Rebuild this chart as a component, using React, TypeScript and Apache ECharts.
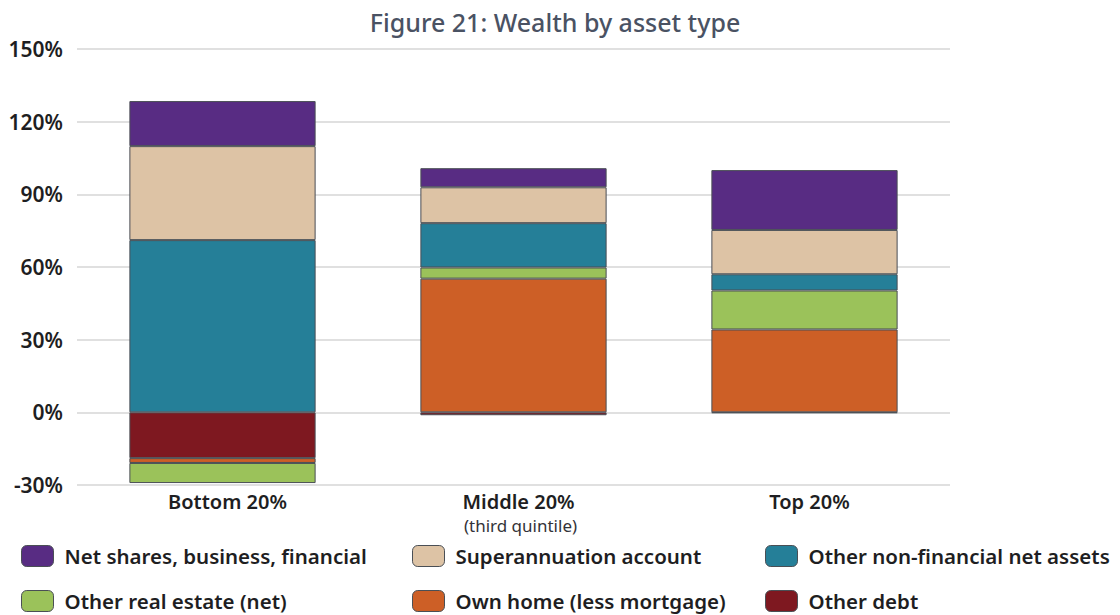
import React, { useEffect, useRef } from "react";
import * as echarts from "echarts";

const categories = ["Bottom 20%", "Middle 20%", "Top 20%"];
const categoryNotes = ["", "(third quintile)", ""];
const yTicks = [-30, 0, 30, 60, 90, 120, 150];

const otherDebt = [-18.9, -1.2, -0.3];
const ownHome = [-2.0, 55.2, 34.2];
const otherRealEstate = [-8.3, 4.6, 16.1];
const otherNonFinancial = [71.1, 18.3, 6.7];
const superannuation = [38.8, 14.8, 18.3];
const netShares = [18.6, 7.9, 24.7];

const seriesDefs = [
  { name: "Other debt", data: otherDebt, color: "#7e1820" },
  { name: "Own home (less mortgage)", data: ownHome, color: "#cd5f26" },
  { name: "Other real estate (net)", data: otherRealEstate, color: "#9bc25a" },
  { name: "Other non-financial net assets", data: otherNonFinancial, color: "#257f98" },
  { name: "Superannuation account", data: superannuation, color: "#ddc3a5" },
  { name: "Net shares, business, financial", data: netShares, color: "#582c83" },
];

const legendLayout: Record<string, { left: number; top: number }> = {
  "Net shares, business, financial": { left: 21, top: 545 },
  "Superannuation account": { left: 412, top: 545 },
  "Other non-financial net assets": { left: 765, top: 545 },
  "Other real estate (net)": { left: 21, top: 590 },
  "Own home (less mortgage)": { left: 412, top: 590 },
  "Other debt": { left: 765, top: 590 },
};

const FONT = "'Noto Sans', 'DejaVu Sans', sans-serif";

export default function App() {
  const ref = useRef<HTMLDivElement>(null);
  useEffect(() => {
    if (!ref.current) return;
    const chart = echarts.init(ref.current, null, { renderer: "svg" });
    const legends = Object.keys(legendLayout).map((name) => ({
      data: [name],
      left: legendLayout[name].left,
      top: legendLayout[name].top,
      padding: 0,
      orient: "horizontal",
      itemWidth: 32,
      itemHeight: 21,
      itemGap: 10,
      selectedMode: false,
      textStyle: { fontFamily: FONT, fontSize: 20.5, fontWeight: 600, color: "#1e1e22", padding: [0, 0, 0, 6] },
      itemStyle: { borderColor: "#4a4f55", borderWidth: 1 },
    }));
    chart.setOption({
      animation: false,
      title: {
        text: "Figure 21: Wealth by asset type",
        left: 550,
        textAlign: "center",
        top: 4,
        textStyle: { fontFamily: FONT, fontSize: 25, fontWeight: 500, color: "#4a5263" },
      },
      legend: legends,
      grid: { left: 77, right: 170, top: 49, bottom: 130 },
      xAxis: {
        type: "category",
        data: categories,
        axisLine: { show: false },
        axisTick: { show: false },
        axisLabel: {
          margin: 6,
          interval: 0,
          fontFamily: FONT,
          fontSize: 20,
          fontWeight: 600,
          color: "#1e1e22",
          lineHeight: 20,
          padding: [0, 0, 0, 10],
        },
      },
      yAxis: {
        type: "value",
        min: yTicks[0],
        max: yTicks[yTicks.length - 1],
        interval: 30,
        axisLine: { show: false },
        axisTick: { show: false },
        splitLine: { lineStyle: { color: "#d6d6d6", width: 1.5 } },
        axisLabel: {
          margin: 14,
          fontFamily: FONT,
          fontSize: 21,
          fontWeight: 600,
          color: "#1e1e22",
          formatter: (v: number) => v + "%",
        },
      },
      series: seriesDefs.map((s) => ({
        name: s.name,
        type: "bar",
        stack: "total",
        data: s.data,
        barWidth: "64%",
        itemStyle: { color: s.color, borderColor: "#4a4f55", borderWidth: 1 },
      })),
    });
    const graphics = categoryNotes
      .map((note, i) => {
        if (!note) return null;
        const x = chart.convertToPixel({ xAxisIndex: 0 }, categories[i]) as number;
        return {
          type: "text",
          x: x + 7,
          y: 525,
          style: {
            text: note,
            fontFamily: FONT,
            fontSize: 17,
            fontWeight: 400,
            fill: "#333338",
            align: "center",
            verticalAlign: "middle",
          },
        };
      })
      .filter(Boolean);
    chart.setOption({ graphic: graphics });
    return () => chart.dispose();
  }, []);
  return <div ref={ref} style={{ width: 1120, height: 615, position: "absolute", left: 0, top: 0 }} />;
}
